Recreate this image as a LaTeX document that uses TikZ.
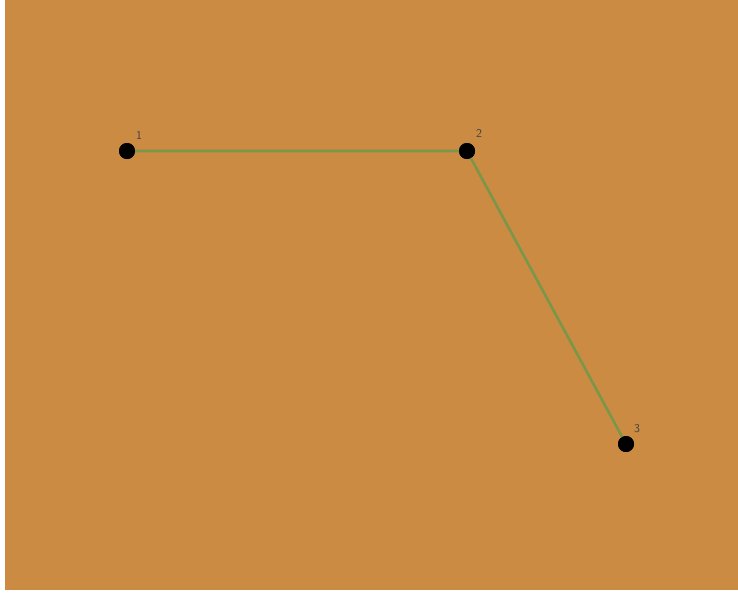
\documentclass[tikz,border=0pt]{standalone}
\begin{document}
\begin{tikzpicture}[x=1pt,y=-1pt,
  dot/.style={circle,fill=black,inner sep=0pt,minimum size=16pt},
  lbl/.style={font=\sffamily\fontsize{12}{12}\selectfont,text=black!75,inner sep=0pt},
  edge/.style={draw={rgb,255:red,122;green,150;blue,72},line width=2.6pt}]
\definecolor{bgor}{RGB}{203,139,67}
\useasboundingbox (0,0) rectangle (738,592);
\fill[white] (0,0) rectangle (738,592);
\fill[bgor] (5,0) rectangle (738,590);
\node[dot] (n1) at (127,151) {};
\node[dot] (n2) at (467,151) {};
\node[dot] (n3) at (626,444) {};
\draw[edge] (n1.center) -- (n2.center) -- (n3.center);
\node[dot] at (n1.center) {};
\node[dot] at (n2.center) {};
\node[dot] at (n3.center) {};
\node[lbl] (l1) at (139,135) {1};
\node[lbl] (l2) at (479,133) {2};
\node[lbl] (l3) at (637,429) {3};
\end{tikzpicture}
\end{document}
